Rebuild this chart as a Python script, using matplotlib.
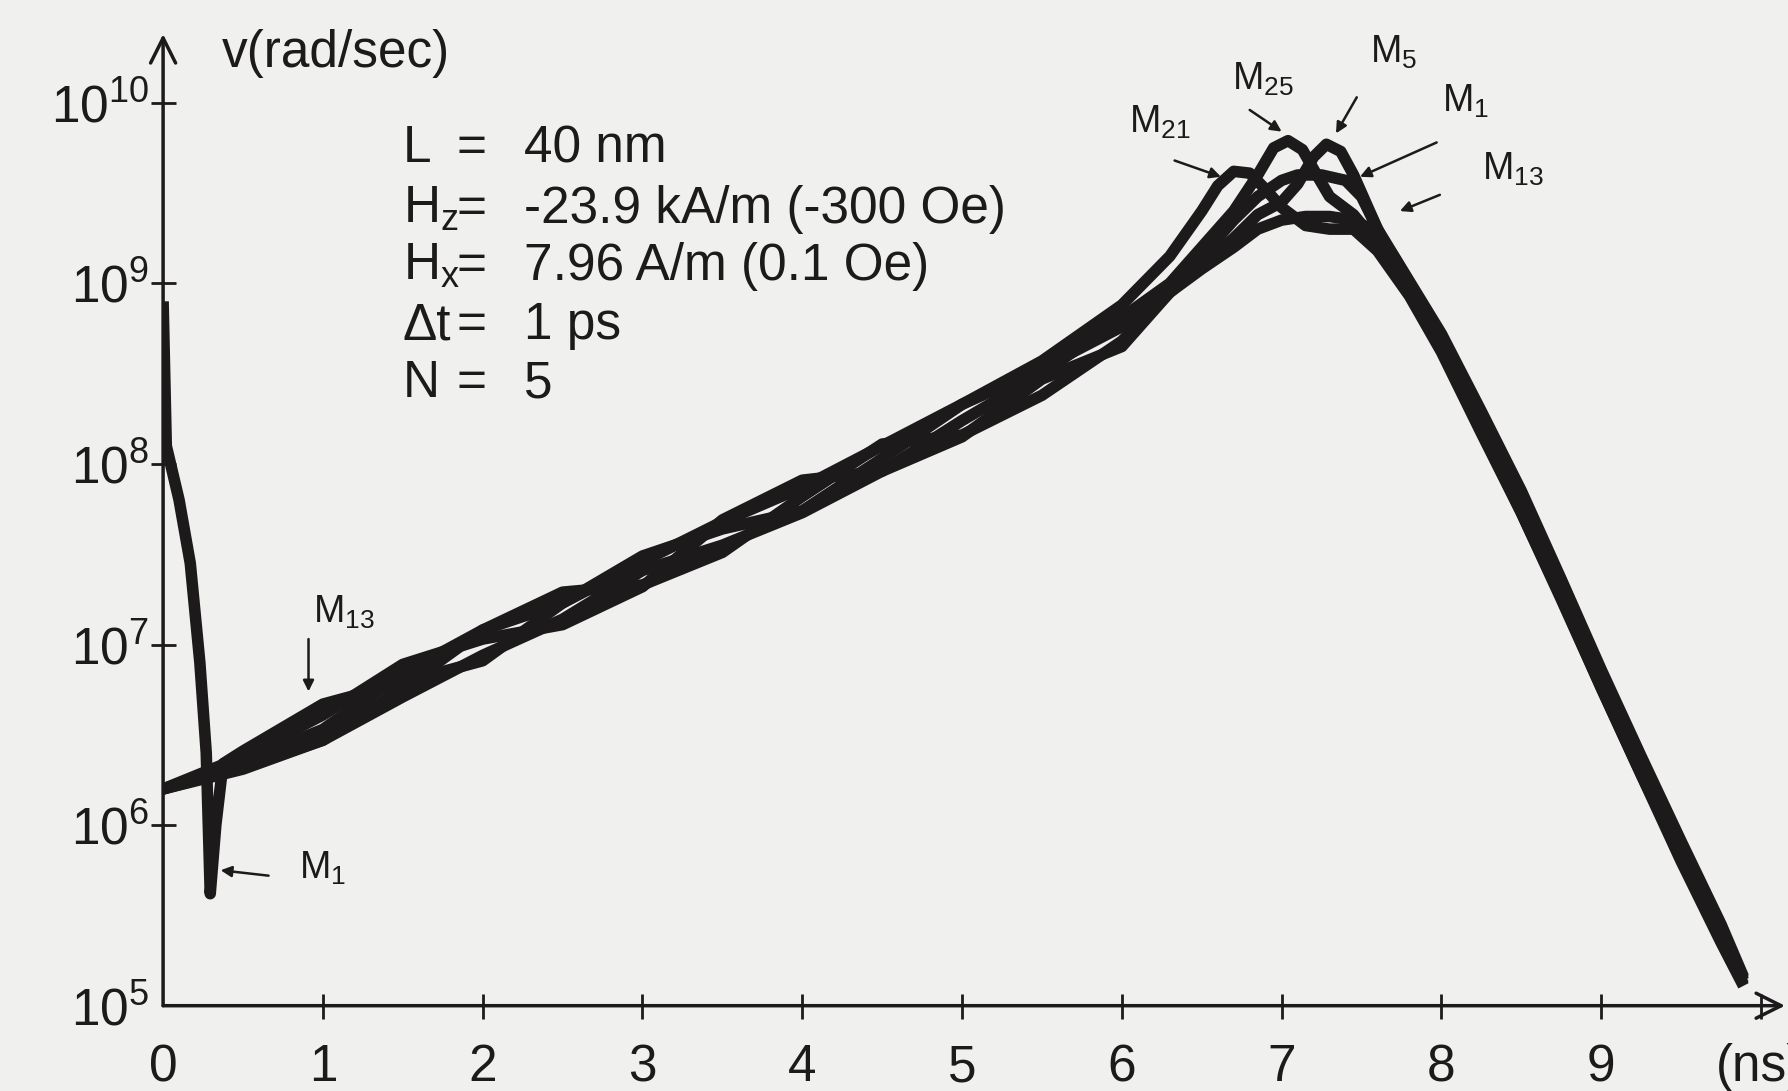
import matplotlib.pyplot as plt
import numpy as np

plt.rcParams['font.family'] = 'Liberation Sans'
plt.rcParams['mathtext.fontset'] = 'custom'
plt.rcParams['mathtext.rm'] = 'Liberation Sans'
plt.rcParams['mathtext.it'] = 'Liberation Sans'

# time (ns) and log10 of angular velocity v (rad/sec)
t_m1 = [0, 0.02, 0.1, 0.17, 0.23, 0.27, 0.295, 0.33, 0.375, 0.5, 1, 1.5, 2, 2.5, 3, 3.5, 4, 4.5, 5, 5.5, 6,
        6.3, 6.5, 6.7, 6.85, 7.0, 7.1, 7.25, 7.4, 7.5, 7.6, 7.8, 8.0, 8.25, 8.5, 8.75, 9.0, 9.25, 9.5, 9.75, 9.89]
v_m1 = [8.9, 8.1, 7.8, 7.45, 6.9, 6.4, 5.62, 6.0, 6.34, 6.41, 6.67, 6.79, 6.91, 7.23, 7.49, 7.64, 7.74, 8.03, 8.33, 8.53, 8.76,
        8.98, 9.15, 9.35, 9.48, 9.57, 9.6, 9.6, 9.57, 9.48, 9.3, 9.01, 8.72, 8.29, 7.85, 7.36, 6.86, 6.38, 5.91, 5.45, 5.16]

t_m5 = [0, 0.5, 1, 1.5, 2, 2.5, 3, 3.5, 4, 4.5, 5, 5.5, 6,
        6.3, 6.5, 6.7, 6.85, 7.0, 7.1, 7.2, 7.28, 7.37, 7.45, 7.6, 7.8, 8.0, 8.25, 8.5, 8.75, 9.0, 9.25, 9.5, 9.75, 9.89]
v_m5 = [6.2, 6.31, 6.47, 6.76, 7.08, 7.29, 7.33, 7.51, 7.82, 8.11, 8.16, 8.38, 8.68,
        8.95, 9.1, 9.25, 9.38, 9.45, 9.55, 9.7, 9.77, 9.73, 9.6, 9.3, 8.95, 8.63, 8.18, 7.73, 7.25, 6.76, 6.28, 5.8, 5.35, 5.11]

t_m13 = [0, 0.5, 1, 1.5, 2, 2.5, 3, 3.5, 4, 4.5, 5, 5.5, 6,
         6.3, 6.5, 6.7, 6.85, 7.0, 7.15, 7.3, 7.45, 7.6, 7.7, 7.8, 8.0, 8.25, 8.5, 8.75, 9.0, 9.25, 9.5, 9.75, 9.89]
v_m13 = [6.2, 6.38, 6.61, 6.89, 7.03, 7.11, 7.32, 7.69, 7.91, 7.96, 8.15, 8.47, 8.65,
         8.95, 9.08, 9.2, 9.3, 9.35, 9.37, 9.37, 9.35, 9.28, 9.15, 9.0, 8.69, 8.25, 7.81, 7.33, 6.83, 6.35, 5.88, 5.42, 5.15]

t_m21 = [0, 0.5, 1, 1.5, 2, 2.5, 3, 3.5, 4, 4.5, 5, 5.5, 6,
         6.3, 6.5, 6.6, 6.7, 6.8, 6.9, 7.0, 7.15, 7.3, 7.45, 7.6, 7.8, 8.0, 8.25, 8.5, 8.75, 9.0, 9.25, 9.5, 9.75, 9.89]
v_m21 = [6.2, 6.35, 6.53, 6.84, 7.08, 7.23, 7.46, 7.68, 7.87, 8.1, 8.33, 8.57, 8.88,
         9.15, 9.4, 9.54, 9.62, 9.61, 9.52, 9.42, 9.32, 9.3, 9.3, 9.18, 8.93, 8.62, 8.17, 7.73, 7.26, 6.76, 6.28, 5.82, 5.36, 5.12]

t_m25 = [0, 0.5, 1, 1.5, 2, 2.5, 3, 3.5, 4, 4.5, 5, 5.5, 6,
         6.3, 6.5, 6.7, 6.85, 6.95, 7.04, 7.13, 7.22, 7.3, 7.45, 7.6, 7.8, 8.0, 8.25, 8.5, 8.75, 9.0, 9.25, 9.5, 9.75, 9.89]
v_m25 = [6.2, 6.32, 6.47, 6.71, 6.94, 7.14, 7.41, 7.55, 7.73, 7.96, 8.24, 8.50, 8.81,
         9.0, 9.2, 9.4, 9.6, 9.75, 9.79, 9.74, 9.6, 9.48, 9.38, 9.22, 8.98, 8.69, 8.25, 7.81, 7.33, 6.83, 6.35, 5.88, 5.42, 5.14]

curves = [(t_m1, v_m1), (t_m5, v_m5), (t_m13, v_m13), (t_m21, v_m21), (t_m25, v_m25)]

x_ticks = [0, 1, 2, 3, 4, 5, 6, 7, 8, 9, 10]
x_labels = ['0', '1', '2', '3', '4', '5', '6', '7', '8', '9', '']
y_exps = [5, 6, 7, 8, 9, 10]

params = [('L', '40 nm'),
          ('H$_\\mathrm{z}$', '-23.9 kA/m (-300 Oe)'),
          ('H$_\\mathrm{x}$', '7.96 A/m (0.1 Oe)'),
          ('\u0394t', '1 ps'),
          ('N', '5')]

bg = '#f0f0ee'
ink = '#1c1a1a'

fig = plt.figure(figsize=(17.88, 10.91), dpi=100, facecolor=bg)
ax = fig.add_axes([163.1 / 1788, 85.3 / 1091, 1621.9 / 1788, 971.6 / 1091])
ax.set_facecolor(bg)
ax.set_yscale('log')
ax.set_xlim(0, 10.15)
ax.set_ylim(1e5, 10 ** 10.38)

for t, v in curves:
    ax.plot(t, np.power(10.0, v), color=ink, lw=8.3, solid_joinstyle='round', solid_capstyle='butt')

for s in ax.spines.values():
    s.set_visible(False)
# axes drawn as arrows
ax.annotate('', xy=(10.15, 1e5), xytext=(0, 1e5), annotation_clip=False,
            arrowprops=dict(arrowstyle='->', lw=2.5, color=ink, shrinkA=0, shrinkB=0, mutation_scale=45))
ax.annotate('', xy=(0, 10 ** 10.38), xytext=(0, 1e5), annotation_clip=False,
            arrowprops=dict(arrowstyle='->', lw=2.5, color=ink, shrinkA=0, shrinkB=0, mutation_scale=45))

ax.set_xticks(x_ticks)
ax.set_xticklabels(x_labels)
ax.set_yticks([10.0 ** e for e in y_exps])
ax.set_yticklabels(['$10^{%d}$' % e for e in y_exps])
ax.minorticks_off()
ax.tick_params(direction='inout', length=18, width=2.0, color=ink, labelcolor=ink, labelsize=37)
ax.tick_params(axis='x', pad=18)
ax.tick_params(axis='y', pad=1)
ax.xaxis.get_major_ticks()[0].tick1line.set_visible(False)
ax.yaxis.get_major_ticks()[0].tick1line.set_visible(False)

ax.text(9.72, 10 ** 4.66, '(ns)', fontsize=37, color=ink, ha='left', va='center', clip_on=False)
ax.text(0.37, 10 ** 10.27, 'v(rad/sec)', fontsize=37, color=ink, ha='left', va='center')

row_y = [9.745, 9.41, 9.095, 8.765, 8.445]
for (name, val), ly in zip(params, row_y):
    ax.text(1.50, 10 ** ly, name, fontsize=37, color=ink, ha='left', va='center')
    ax.text(1.93, 10 ** ly, '=', fontsize=37, color=ink, ha='center', va='center')
    ax.text(2.26, 10 ** ly, val, fontsize=37, color=ink, ha='left', va='center')

# mode labels: (text, label pos, arrow tail, arrow tip)
marks = [('M$_{13}$', (1.13, 7.18), (0.91, 7.03), (0.91, 6.74)),
         ('M$_{1}$', (1.0, 5.76), (0.66, 5.72), (0.36, 5.75)),
         ('M$_{21}$', (6.24, 9.89), (6.33, 9.68), (6.62, 9.59)),
         ('M$_{25}$', (6.88, 10.13), (6.80, 9.96), (7.0, 9.84)),
         ('M$_{5}$', (7.70, 10.28), (7.47, 10.03), (7.34, 9.83)),
         ('M$_{1}$', (8.15, 10.01), (7.97, 9.78), (7.49, 9.59)),
         ('M$_{13}$', (8.45, 9.63), (7.99, 9.49), (7.74, 9.40))]
for lab, (lx, ly), (ax0, ay0), (ax1, ay1) in marks:
    ax.text(lx, 10 ** ly, lab, fontsize=27, color=ink, ha='center', va='center')
    ax.annotate('', xy=(ax1, 10 ** ay1), xytext=(ax0, 10 ** ay0),
                arrowprops=dict(arrowstyle='-|>', lw=1.8, color=ink, shrinkA=0, shrinkB=0, mutation_scale=16))

fig.savefig('out.png', dpi=100, facecolor=bg)
